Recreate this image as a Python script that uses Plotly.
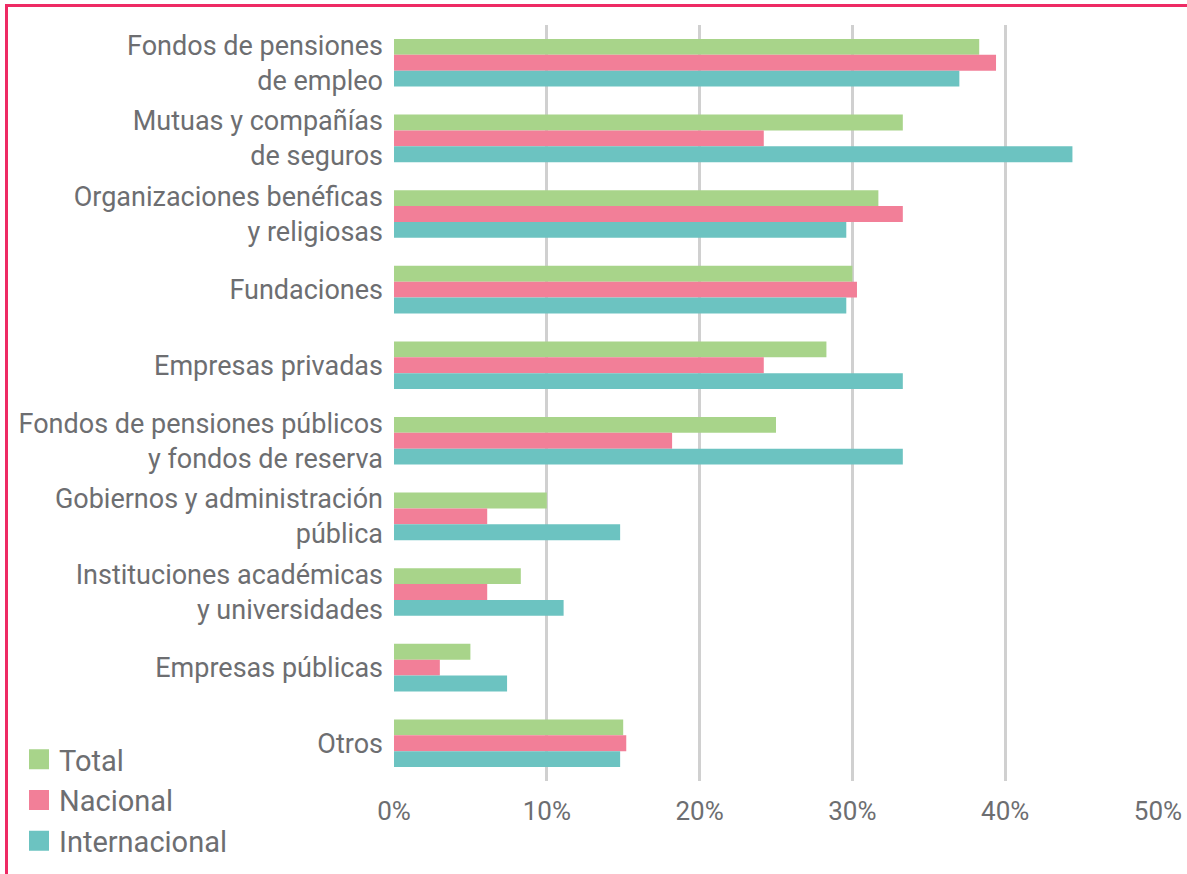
import plotly.graph_objects as go

# Investor categories (top to bottom) and share of respondents per group, in %
categories = [
    "Fondos de pensiones<br>de empleo",
    "Mutuas y compañías<br>de seguros",
    "Organizaciones benéficas<br>y religiosas",
    "Fundaciones",
    "Empresas privadas",
    "Fondos de pensiones públicos<br>y fondos de reserva",
    "Gobiernos y administración<br>pública",
    "Instituciones académicas<br>y universidades",
    "Empresas públicas",
    "Otros",
]
total = [38.3, 33.3, 31.7, 30.0, 28.3, 25.0, 10.0, 8.3, 5.0, 15.0]
nacional = [39.4, 24.2, 33.3, 30.3, 24.2, 18.2, 6.1, 6.1, 3.0, 15.2]
internacional = [37.0, 44.4, 29.6, 29.6, 33.3, 33.3, 14.8, 11.1, 7.4, 14.8]

x_ticks = [0, 10, 20, 30, 40, 50]
x_tick_labels = ["0%", "10%", "20%", "30%", "40%", "50%"]

series = [
    ("Total", total, "#A8D48A"),
    ("Nacional", nacional, "#F27F98"),
    ("Internacional", internacional, "#6CC3C1"),
]

TEXT = "#6d6e71"
FONT = "Roboto"
W, H = 1187, 874
ML, MR, MT, MB = 394, 29, 25, 93
PW = W - ML - MR
PH = H - MT - MB

fig = go.Figure()
for name, vals, color in series:
    fig.add_trace(go.Bar(
        y=categories, x=vals, name=name, orientation="h",
        marker=dict(color=color, line=dict(width=0)),
        showlegend=False, hoverinfo="x+y",
    ))
# Larger legend swatches
for name, vals, color in series:
    fig.add_trace(go.Scatter(
        x=[None], y=[None], mode="markers", name=name,
        marker=dict(symbol="square", size=16, color=color,
                    line=dict(color=color, width=4)),
    ))


def px_x(p):
    return (p - ML) / PW


def px_y(p):
    return 1 - (p - MT) / PH


fig.update_layout(
    width=W, height=H,
    margin=dict(l=ML, r=MR, t=MT, b=MB, autoexpand=False),
    paper_bgcolor="white", plot_bgcolor="white",
    barmode="group", bargap=0.37, bargroupgap=0,
    font=dict(family=FONT, color=TEXT, size=26),
    xaxis=dict(
        range=[0, 50], tickvals=x_ticks, ticktext=x_tick_labels,
        showgrid=True, gridcolor="#d0d0d0", gridwidth=2.5,
        zeroline=False, showline=False, ticks="",
        ticklabelstandoff=12, tickfont=dict(size=26, color=TEXT),
    ),
    yaxis=dict(
        autorange="reversed", showgrid=False,
        zeroline=False, showline=False, ticks="",
        ticklabelstandoff=10, tickfont=dict(size=27, color=TEXT),
    ),
    legend=dict(
        x=px_x(19), xanchor="left", y=px_y(734), yanchor="top",
        font=dict(size=29, color=TEXT), tracegroupgap=0,
        bgcolor="rgba(0,0,0,0)", itemclick=False,
    ),
    shapes=[dict(
        type="rect", xref="paper", yref="paper",
        x0=px_x(6.5), x1=px_x(W + 40), y0=px_y(H + 40), y1=px_y(5.5),
        line=dict(color="#EE2A64", width=3), fillcolor="rgba(0,0,0,0)",
        layer="above",
    )],
)

fig.write_html("out.html")
